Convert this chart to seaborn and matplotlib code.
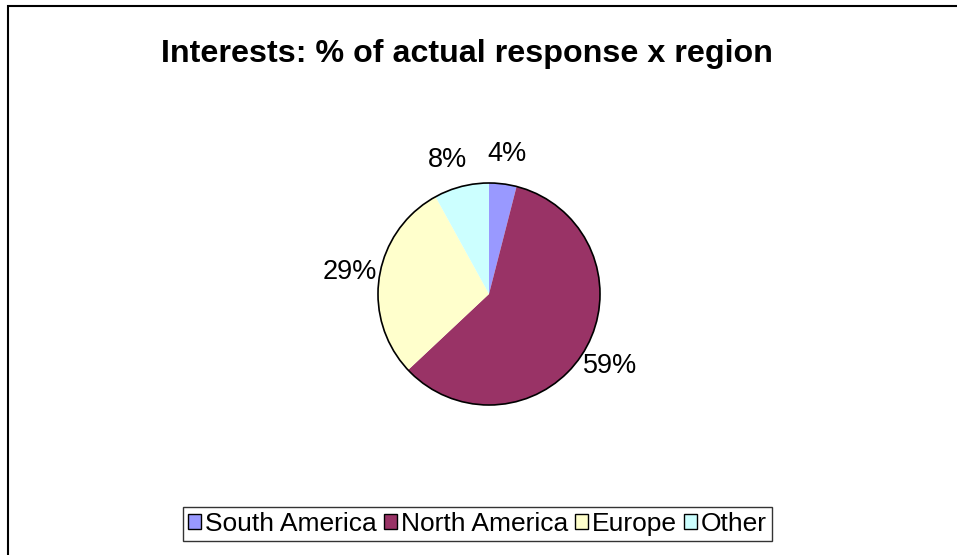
import matplotlib
matplotlib.use("Agg")
import matplotlib.pyplot as plt
import matplotlib.transforms as mtrans
import seaborn as sns
from matplotlib.patches import Rectangle, Circle, Patch

categories = ["South America", "North America", "Europe", "Other"]
values = [4, 59, 29, 8]
colors = ["#9999FF", "#993366", "#FFFFCC", "#CCFFFF"]

sns.set_theme(style="white")
plt.rcParams['font.family'] = ['Liberation Sans', 'DejaVu Sans']
plt.rcParams['text.color'] = 'black'

fig = plt.figure(figsize=(9.57, 5.55), dpi=100)
W, H = 957, 555
ax = fig.add_axes([378 / W, (H - 405) / H, 222 / W, 222 / H])

wedges, texts, autotexts = ax.pie(
    values, colors=colors, startangle=90, counterclock=False,
    autopct=lambda p: f"{p:.0f}%", pctdistance=1.27,
    wedgeprops=dict(linewidth=0),
    textprops=dict(fontsize=19.5, color="black"))
ax.add_patch(Circle((0, 0), 1, facecolor="none", edgecolor="black",
                    linewidth=1.2, clip_on=False))
ax.set_xlim(-1, 1)
ax.set_ylim(-1, 1)
ax.set_aspect("equal")

# small nudge of the 8% label like the reference placement
autotexts[3].set_transform(autotexts[3].get_transform() +
                           mtrans.ScaledTranslation(-6 / 100, -3 / 100, fig.dpi_scale_trans))

fig.text(467 / W, (H - 54) / H, "Interests: % of actual response x region",
         ha="center", va="center", fontsize=23.2, fontweight="bold", color="black")

handles = [Patch(facecolor=c, edgecolor="black", linewidth=1) for c in colors]
leg = fig.legend(handles, categories, loc="center", bbox_to_anchor=(477.5 / W, (H - 524) / H),
                 ncol=4, fontsize=19, frameon=True, fancybox=False,
                 handlelength=0.5, handleheight=0.5, handletextpad=0.15,
                 columnspacing=0.25, borderpad=0.2, borderaxespad=0)
for t in leg.get_texts():
    t.set_color("black")
leg.get_frame().set_edgecolor("black")
leg.get_frame().set_linewidth(1.0)

fig.patches.append(Rectangle((8 / W, -0.1), 1.2, (H - 6) / H + 0.1, transform=fig.transFigure,
                             facecolor="none", edgecolor="black", linewidth=1.5, clip_on=False))

fig.savefig("out.png", dpi=100)
